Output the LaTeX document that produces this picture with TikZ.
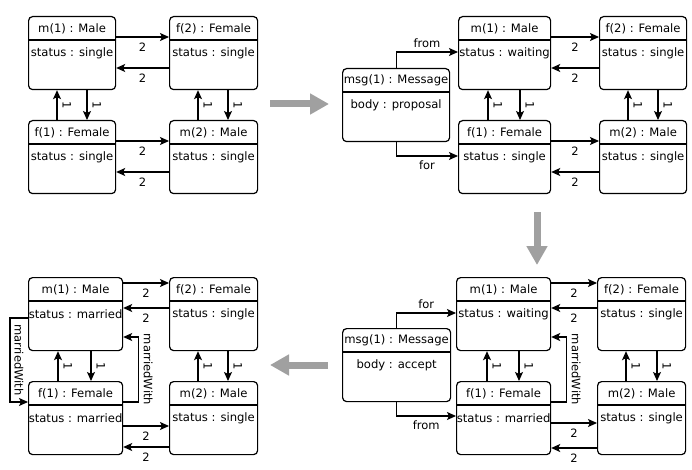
\documentclass[tikz,border=0pt]{standalone}
\usepackage{fontspec}
\setmainfont{DejaVu Sans}
\usetikzlibrary{arrows.meta, calc}
\definecolor{flow}{RGB}{160,160,160}

% object box: name, top left corner, width, title, attribute
\newcommand{\objbox}[5]{%
  \node[obj, minimum width=#3, anchor=north west] (#1) at (#2) {};
  \node[objtext] (#1t) at ([yshift=-12.5pt]#1.north) {#4};
  \draw[objsep] ([yshift=-24pt]#1.north west) -- ([yshift=-24pt]#1.north east);
  \node[objtext] (#1a) at ([yshift=-37pt]#1.north) {#5};
}

\begin{document}
\begin{tikzpicture}[x=1pt, y=-1pt,
    obj/.style={draw, line width=1.2pt, rounded corners=4pt, minimum height=73pt, inner sep=0pt},
    objtext/.style={font=\fontsize{11.6pt}{13pt}\selectfont, inner sep=0pt},
    objsep/.style={line width=2pt},
    link/.style={line width=1.1pt, -{Stealth[length=9pt, width=8pt, inset=2pt]}},
    num/.style={font=\fontsize{11.5pt}{13pt}\selectfont, below, inner sep=5pt},
    one/.style={font=\fontsize{11.5pt}{13pt}\selectfont, rotate=-90, anchor=south, inner sep=5pt},
    role/.style={font=\fontsize{11.5pt}{13pt}\selectfont, inner sep=4pt},
    flowarrow/.style={draw=flow, line width=7pt, -{Triangle[length=19pt, width=20pt]}}]
  \useasboundingbox (0,0) rectangle (692,470);

  % Panel 1: all single
  \objbox{aM1}{28,16}{87pt}{m(1) : Male}{status : single}
  \objbox{aF2}{169,16}{88pt}{f(2) : Female}{status : single}
  \objbox{aF1}{28,120}{87pt}{f(1) : Female}{status : single}
  \objbox{aM2}{169,120}{88pt}{m(2) : Male}{status : single}
  \draw[link] ([yshift=-21pt]aM1.north east) -- ([yshift=-21pt]aF2.north west) node[midway, num] {2};
  \draw[link] ([yshift=-52pt]aF2.north west) -- ([yshift=-52pt]aM1.north east) node[midway, num] {2};
  \draw[link] ([yshift=-21pt]aF1.north east) -- ([yshift=-21pt]aM2.north west) node[midway, num] {2};
  \draw[link] ([yshift=-52pt]aM2.north west) -- ([yshift=-52pt]aF1.north east) node[midway, num] {2};
  \draw[link] ([xshift=29pt]aF1.north west) -- ([xshift=29pt]aM1.south west) node[midway, one] {1};
  \draw[link] ([xshift=59pt]aM1.south west) -- ([xshift=59pt]aF1.north west) node[midway, one] {1};
  \draw[link] ([xshift=29pt]aM2.north west) -- ([xshift=29pt]aF2.south west) node[midway, one] {1};
  \draw[link] ([xshift=59pt]aF2.south west) -- ([xshift=59pt]aM2.north west) node[midway, one] {1};

  % Panel 2: proposal
  \objbox{bMsg}{342,68}{107pt}{msg(1) : Message}{body : proposal}
  \objbox{bM1}{458,16}{92pt}{m(1) : Male}{status : waiting}
  \objbox{bF2}{599,16}{87pt}{f(2) : Female}{status : single}
  \objbox{bF1}{458,120}{92pt}{f(1) : Female}{status : single}
  \objbox{bM2}{599,120}{87pt}{m(2) : Male}{status : single}
  \draw[link] (bMsg.north) |- node[pos=0.75, role, above] {from} ([yshift=-36pt]bM1.north west);
  \draw[link] (bMsg.south) |- node[pos=0.75, role, below] {for} ([yshift=-36pt]bF1.north west);
  \draw[link] ([yshift=-21pt]bM1.north east) -- ([yshift=-21pt]bF2.north west) node[midway, num] {2};
  \draw[link] ([yshift=-52pt]bF2.north west) -- ([yshift=-52pt]bM1.north east) node[midway, num] {2};
  \draw[link] ([yshift=-21pt]bF1.north east) -- ([yshift=-21pt]bM2.north west) node[midway, num] {2};
  \draw[link] ([yshift=-52pt]bM2.north west) -- ([yshift=-52pt]bF1.north east) node[midway, num] {2};
  \draw[link] ([xshift=30pt]bF1.north west) -- ([xshift=30pt]bM1.south west) node[midway, one] {1};
  \draw[link] ([xshift=62pt]bM1.south west) -- ([xshift=62pt]bF1.north west) node[midway, one] {1};
  \draw[link] ([xshift=29pt]bM2.north west) -- ([xshift=29pt]bF2.south west) node[midway, one] {1};
  \draw[link] ([xshift=59pt]bF2.south west) -- ([xshift=59pt]bM2.north west) node[midway, one] {1};

  % Panel 3: accept
  \objbox{cMsg}{342,328}{108pt}{msg(1) : Message}{body : accept}
  \objbox{cM1}{456,277}{94pt}{m(1) : Male}{status : waiting}
  \objbox{cF2}{597,277}{88pt}{f(2) : Female}{status : single}
  \objbox{cF1}{456,381}{94pt}{f(1) : Female}{status : married}
  \objbox{cM2}{597,381}{88pt}{m(2) : Male}{status : single}
  \draw[link] (cMsg.north) |- node[pos=0.75, role, above] {for} ([yshift=-36pt]cM1.north west);
  \draw[link] (cMsg.south) |- node[pos=0.75, role, below] {from} ([yshift=-35pt]cF1.north west);
  \draw[link] ([yshift=-6pt]cM1.north east) -- ([yshift=-6pt]cF2.north west) node[midway, num] {2};
  \draw[link] ([yshift=-31pt]cF2.north west) -- ([yshift=-31pt]cM1.north east) node[midway, num] {2};
  \draw[link] ([yshift=-42pt]cF1.north east) -- ([yshift=-42pt]cM2.north west) node[midway, num] {2};
  \draw[link] ([yshift=-67pt]cM2.north west) -- ([yshift=-67pt]cF1.north east) node[midway, num] {2};
  \draw[link] ([xshift=31pt]cF1.north west) -- ([xshift=31pt]cM1.south west) node[midway, one] {1};
  \draw[link] ([xshift=63pt]cM1.south west) -- ([xshift=63pt]cF1.north west) node[midway, one] {1};
  \draw[link] ([xshift=29pt]cM2.north west) -- ([xshift=29pt]cF2.south west) node[midway, one] {1};
  \draw[link] ([xshift=60pt]cF2.south west) -- ([xshift=60pt]cM2.north west) node[midway, one] {1};
  \draw[link] ([yshift=-21pt]cF1.north east) -- ++(15,0) |- node[pos=0.25, one, inner sep=5pt] {marriedWith} ([yshift=-60pt]cM1.north east);

  % Panel 4: married
  \objbox{dM1}{28,277}{94pt}{m(1) : Male}{status : married}
  \objbox{dF2}{169,277}{88pt}{f(2) : Female}{status : single}
  \objbox{dF1}{28,381}{94pt}{f(1) : Female}{status : married}
  \objbox{dM2}{169,381}{88pt}{m(2) : Male}{status : single}
  \draw[link] ([yshift=-6pt]dM1.north east) -- ([yshift=-6pt]dF2.north west) node[midway, num] {2};
  \draw[link] ([yshift=-31pt]dF2.north west) -- ([yshift=-31pt]dM1.north east) node[midway, num] {2};
  \draw[link] ([yshift=-45pt]dF1.north east) -- ([yshift=-45pt]dM2.north west) node[midway, num] {2};
  \draw[link] ([yshift=-66pt]dM2.north west) -- ([yshift=-66pt]dF1.north east) node[midway, num] {2};
  \draw[link] ([xshift=30pt]dF1.north west) -- ([xshift=30pt]dM1.south west) node[midway, one] {1};
  \draw[link] ([xshift=63pt]dM1.south west) -- ([xshift=63pt]dF1.north west) node[midway, one] {1};
  \draw[link] ([xshift=29pt]dM2.north west) -- ([xshift=29pt]dF2.south west) node[midway, one] {1};
  \draw[link] ([xshift=59pt]dF2.south west) -- ([xshift=59pt]dM2.north west) node[midway, one] {1};
  \draw[link] ([yshift=-41pt]dM1.north west) -- ++(-18,0) |- node[pos=0.25, one, inner sep=4pt] {marriedWith} ([yshift=-21pt]dF1.north west);
  \draw[link] ([yshift=-21pt]dF1.north east) -- ++(15,0) |- node[pos=0.25, one, inner sep=5pt] {marriedWith} ([yshift=-60pt]dM1.north east);

  % steps between panels
  \coordinate (s1a) at (270,104);
  \coordinate (s1b) at (329,104);
  \coordinate (s2a) at (537,212);
  \coordinate (s2b) at (537,265);
  \coordinate (s3a) at (328,365);
  \coordinate (s3b) at (270,365);
  \draw[flowarrow] (s1a) -- (s1b);
  \draw[flowarrow] (s2a) -- (s2b);
  \draw[flowarrow] (s3a) -- (s3b);
\end{tikzpicture}
\end{document}
